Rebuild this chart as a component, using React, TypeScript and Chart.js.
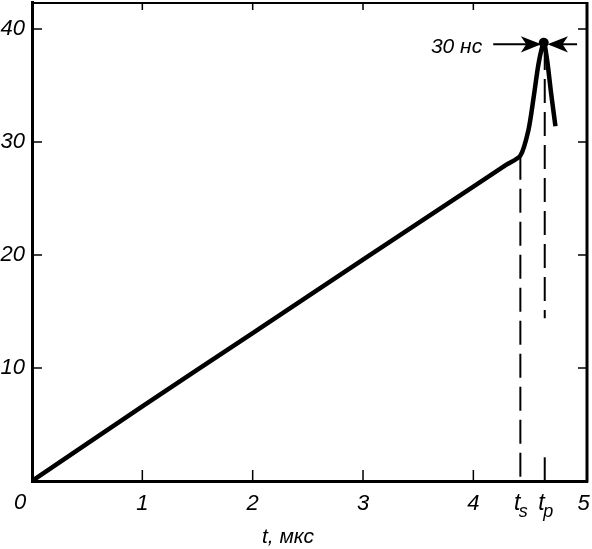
import React, { useEffect, useRef } from "react";
import { Chart, registerables } from "chart.js";

Chart.register(...registerables);

// ---- data ----
const CURVE_T = [0, 1, 2, 3, 4, 4.3, 4.426, 4.5, 4.547, 4.592, 4.638, 4.668, 4.705, 4.744];
const CURVE_V = [0, 6.6, 13.1, 19.6, 26.05, 28.0, 28.8, 31.1, 34.0, 37.0, 38.8, 37.3, 34.3, 31.4];

const X_TICKS = [0, 1, 2, 3, 4, 5];
const Y_TICKS = [0, 10, 20, 30, 40];
const X_MIN = 0;
const X_MAX = 5.03;
const Y_MIN = 0;
const Y_MAX = 42.4;

const T_S = 4.426;
const T_P = 4.647;
const TS_LINE_V = [28.8, 0];
const TP_LINE_A_V = [38.5, 14.4];
const TP_LINE_B_V = [2.1, 0];

const X_TITLE = "t, мкс";
const X_TITLE_T = 2.32;
const ORIGIN_LABEL = "0";
const TS_LABEL = ["t", "s"];
const TP_LABEL = ["t", "p"];

const PULSE_LABEL = "30 нс";
const PULSE_LABEL_T = 4.08;
const ARROW_V = 38.66;
const LEFT_ARROW_T = [4.18, 4.59];
const RIGHT_ARROW_T = [4.94, 4.698];

const FONT = "'Liberation Sans', Arial, sans-serif";
const INK = "#000";

const PEAK_INDEX = CURVE_V.indexOf(Math.max(...CURVE_V));

const framePlugin = {
  id: "framePlugin",
  afterDraw(chart: any) {
    const ctx = chart.ctx as CanvasRenderingContext2D;
    const { left, right, top, bottom } = chart.chartArea;
    const xs = chart.scales.x;
    const ys = chart.scales.y;
    ctx.save();
    ctx.strokeStyle = INK;
    ctx.fillStyle = INK;
    ctx.lineCap = "butt";

    // top and right frame
    ctx.lineWidth = 2;
    ctx.beginPath();
    ctx.moveTo(left - 1, top + 1);
    ctx.lineTo(right, top + 1);
    ctx.stroke();
    ctx.lineWidth = 3;
    ctx.beginPath();
    ctx.moveTo(right, top);
    ctx.lineTo(right, bottom + 1.5);
    ctx.stroke();

    // inward ticks
    ctx.lineWidth = 1.5;
    X_TICKS.forEach((t) => {
      if (t <= X_MIN || t >= 5) return;
      const px = xs.getPixelForValue(t);
      ctx.beginPath();
      ctx.moveTo(px, bottom);
      ctx.lineTo(px, bottom - 11);
      ctx.moveTo(px, top);
      ctx.lineTo(px, top + 8);
      ctx.stroke();
    });
    Y_TICKS.forEach((v) => {
      if (v <= Y_MIN) return;
      const py = ys.getPixelForValue(v);
      ctx.beginPath();
      ctx.moveTo(left, py);
      ctx.lineTo(left + 10, py);
      ctx.moveTo(right, py);
      ctx.lineTo(right - 9, py);
      ctx.stroke();
    });

    // origin label
    ctx.font = `italic 22px ${FONT}`;
    ctx.textAlign = "center";
    ctx.textBaseline = "alphabetic";
    ctx.fillText(ORIGIN_LABEL, xs.getPixelForValue(0) - 12, bottom + 28);

    // t_s, t_p labels
    const sub = (t: number, lbl: string[]) => {
      const px = xs.getPixelForValue(t);
      ctx.font = `italic 23px ${FONT}`;
      ctx.textAlign = "right";
      ctx.fillText(lbl[0], px, bottom + 29);
      ctx.font = `italic 18px ${FONT}`;
      ctx.textAlign = "left";
      ctx.fillText(lbl[1], px - 1.5, bottom + 36);
    };
    sub(T_S, TS_LABEL);
    sub(T_P, TP_LABEL);

    // axis title
    ctx.font = `italic 21px ${FONT}`;
    ctx.textAlign = "center";
    ctx.fillText(X_TITLE, xs.getPixelForValue(X_TITLE_T), bottom + 62);

    // pulse-width annotation
    const ay = ys.getPixelForValue(ARROW_V);
    ctx.font = `italic 21px ${FONT}`;
    ctx.textAlign = "right";
    ctx.fillText(PULSE_LABEL, xs.getPixelForValue(PULSE_LABEL_T), ay + 8.5);

    const arrow = (from: number, to: number) => {
      const x0 = xs.getPixelForValue(from);
      const x1 = xs.getPixelForValue(to);
      const dir = Math.sign(x1 - x0);
      ctx.lineWidth = 2;
      ctx.beginPath();
      ctx.moveTo(x0, ay);
      ctx.lineTo(x1, ay);
      ctx.stroke();
      ctx.beginPath();
      ctx.moveTo(x1, ay);
      ctx.lineTo(x1 - dir * 15, ay - 6);
      ctx.lineTo(x1 - dir * 11, ay);
      ctx.lineTo(x1 - dir * 15, ay + 6);
      ctx.closePath();
      ctx.fill();
      ctx.stroke();
    };
    arrow(LEFT_ARROW_T[0], LEFT_ARROW_T[1]);
    arrow(RIGHT_ARROW_T[0], RIGHT_ARROW_T[1]);

    ctx.restore();
  },
};

const zeroPad = (s: any) => {
  s.paddingTop = 0;
  s.paddingBottom = 0;
  s.paddingLeft = 0;
  s.paddingRight = 0;
};

export default function App() {
  const ref = useRef<HTMLCanvasElement | null>(null);

  useEffect(() => {
    document.body.style.margin = "0";
    if (!ref.current) return;
    const curve = CURVE_T.map((t, i) => ({ x: t, y: CURVE_V[i] }));
    const dashed = {
      borderColor: INK,
      borderWidth: 2,
      borderDash: [24, 9],
      pointRadius: 0,
      tension: 0,
    };
    const chart = new Chart(ref.current, {
      type: "line",
      data: {
        datasets: [
          {
            data: curve,
            borderColor: INK,
            backgroundColor: INK,
            borderWidth: 4.5,
            tension: 0.25,
            pointRadius: (c: any) => (c.dataIndex === PEAK_INDEX ? 5 : 0),
            pointBorderWidth: 0,
          },
          { ...dashed, data: TS_LINE_V.map((v) => ({ x: T_S, y: v })) },
          { ...dashed, data: TP_LINE_A_V.map((v) => ({ x: T_P, y: v })) },
          { ...dashed, data: TP_LINE_B_V.map((v) => ({ x: T_P, y: v })) },
        ],
      },
      options: {
        animation: false,
        responsive: true,
        maintainAspectRatio: false,
        layout: { padding: { top: 2, right: 5, left: 0, bottom: 0 } },
        plugins: { legend: { display: false }, tooltip: { enabled: false } },
        scales: {
          x: {
            type: "linear",
            min: X_MIN,
            max: X_MAX,
            afterBuildTicks: (s: any) => {
              s.ticks = X_TICKS.map((v) => ({ value: v }));
            },
            afterFit: (s: any) => {
              s.height = 68;
              zeroPad(s);
            },
            ticks: {
              autoSkip: false,
              maxRotation: 0,
              padding: 10,
              color: INK,
              font: { family: FONT, size: 22, style: "italic" },
              callback: (v: any) => (v === 0 ? "" : String(v)),
            },
            grid: { display: false, drawTicks: false },
            border: { display: true, color: INK, width: 3 },
          },
          y: {
            type: "linear",
            min: Y_MIN,
            max: Y_MAX,
            afterBuildTicks: (s: any) => {
              s.ticks = Y_TICKS.map((v) => ({ value: v }));
            },
            afterFit: (s: any) => {
              s.width = 32;
              zeroPad(s);
            },
            ticks: {
              padding: 7,
              color: INK,
              font: { family: FONT, size: 22, style: "italic" },
              callback: (v: any) => (v === 0 ? "" : String(v)),
            },
            grid: { display: false, drawTicks: false },
            border: { display: true, color: INK, width: 3 },
          },
        },
      },
      plugins: [framePlugin],
    });
    return () => chart.destroy();
  }, []);

  return (
    <div style={{ width: 592, height: 549, position: "relative", background: "#fff" }}>
      <canvas ref={ref} />
    </div>
  );
}
